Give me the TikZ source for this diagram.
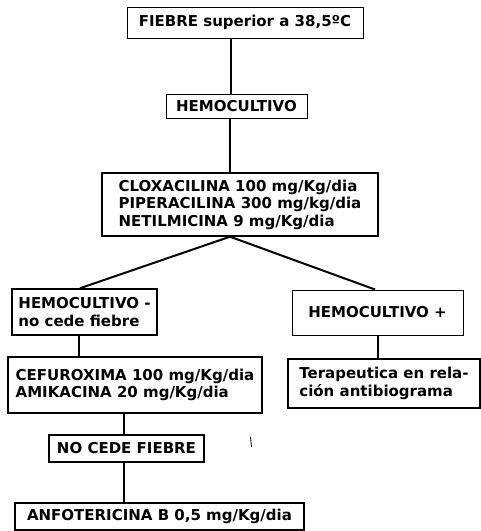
\documentclass[tikz,border=0pt]{standalone}
\usepackage{fontspec}
\setmainfont{DejaVu Sans}
\begin{document}
\begin{tikzpicture}[x=1pt,y=1pt,
  every node/.style={font=\fontsize{15}{17.5}\selectfont\bfseries},
  boxnode/.style={draw, line width=#1, inner sep=0pt, align=left},
  boxnode/.default=1.2pt,
  link/.style={line width=2pt}]
\useasboundingbox (0,0) rectangle (481,-531);

% boxes of the flow chart
\node[boxnode=1pt, minimum width=236, minimum height=31] (fiebre) at (245,-22.5)
  {FIEBRE superior a 38,5ºC};
\node[boxnode=1pt, minimum width=141, minimum height=24] (hemo) at (236.5,-106)
  {HEMOCULTIVO};
\node[boxnode=1.4pt, minimum width=276, minimum height=63] (pauta) at (240,-204.5)
  {CLOXACILINA 100 mg/Kg/dia\\PIPERACILINA 300 mg/kg/dia\\NETILMICINA 9 mg/Kg/dia};
\node[boxnode=1.5pt, minimum width=145, minimum height=46] (neg) at (84.5,-312)
  {HEMOCULTIVO -\\no cede fiebre};
\node[boxnode=1pt, minimum width=171, minimum height=45] (pos) at (377.5,-312.5)
  {HEMOCULTIVO +};
\node[boxnode=2pt, minimum width=254, minimum height=56] (cefur) at (135,-385)
  {CEFUROXIMA 100 mg/Kg/dia\\AMIKACINA 20 mg/Kg/dia};
\node[boxnode=1.5pt, minimum width=192, minimum height=49] (terap) at (384,-383.5)
  {Terapeutica en rela-\\ción antibiograma};
\node[boxnode=1.8pt, minimum width=155, minimum height=27] (nocede) at (126.5,-448.5)
  {NO CEDE FIEBRE};
\node[boxnode=2pt, minimum width=289, minimum height=27] (anfo) at (159.5,-516.5)
  {ANFOTERICINA B 0,5 mg/Kg/dia};

% connectors
\draw[link] ([xshift=-14pt]fiebre.south) -- ([xshift=-5.5pt]hemo.north);
\draw[link] ([xshift=-6.5pt]hemo.south) -- ([xshift=-10pt]pauta.north);
\draw[link] ([xshift=-10pt]pauta.south) -- ([xshift=-4.5pt]neg.north);
\draw[link] ([xshift=-10pt]pauta.south) -- ([xshift=-2.5pt]pos.north);
\draw[link] ([xshift=-5.5pt]neg.south) -- ([xshift=-56pt]cefur.north);
\draw[link] ([xshift=0.5pt]pos.south) -- ([xshift=-6pt]terap.north);
\draw[link] ([xshift=-11pt]cefur.south) -- ([xshift=-2.5pt]nocede.north);
\draw[link] ([xshift=-2.5pt]nocede.south) -- ([xshift=-35.5pt]anfo.north);

% small pen stroke beside the lower branch
\draw[line width=0.8pt] (250.5,-437) -- (251.5,-447);
\end{tikzpicture}
\end{document}
